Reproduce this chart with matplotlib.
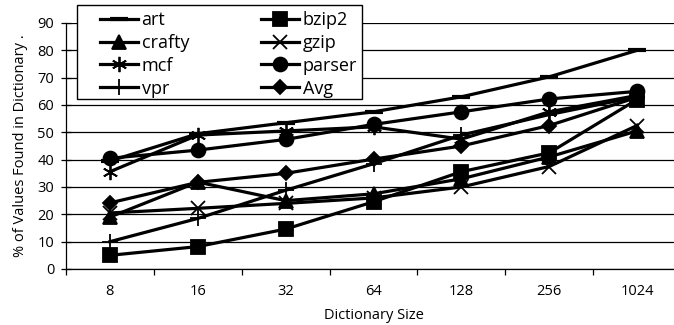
import matplotlib
matplotlib.use('Agg')
import matplotlib.pyplot as plt
from matplotlib.patches import Rectangle
from matplotlib.ticker import FixedLocator, NullFormatter

plt.rcParams['font.family'] = ['Open Sans', 'DejaVu Sans']

sizes = ['8', '16', '32', '64', '128', '256', '1024']

art = [39.5, 49.5, 53.5, 57.5, 63, 70.3, 80]
bzip2 = [5, 8.2, 14.6, 24.6, 35.6, 42.5, 62]
crafty = [19, 31.8, 25, 27.5, 33, 41, 50.5]
gzip = [20.5, 22.2, 24, 26, 30, 37.5, 52.5]
mcf = [35.6, 49, 50.5, 52, 47.5, 57.5, 63.5]
parser = [40.5, 43.5, 47.4, 52.9, 57.5, 62.2, 65]
vpr = [10, 18.5, 28.8, 38.5, 49, 56.5, 63]
avg = [24.2, 31.7, 35, 40.2, 45, 52.5, 62.8]

series = [
    ('art', art, '_', 13),
    ('bzip2', bzip2, 's', 10),
    ('crafty', crafty, '^', 10),
    ('gzip', gzip, 'x', 10),
    ('mcf', mcf, (6, 2, 0), 11),
    ('parser', parser, 'o', 10),
    ('vpr', vpr, '+', 12),
    ('Avg', avg, 'D', 7.5),
]

W, H = 674, 325
fig = plt.figure(figsize=(W / 100, H / 100), dpi=100)
ax = fig.add_axes([66 / W, 1 - 269 / H, 615 / W, 246 / H])

x = list(range(len(sizes)))
lines = {}
for name, vals, mk, ms in series:
    mew = 3 if mk == '_' else 1.3
    ln, = ax.plot(x, vals, color='black', lw=2.3, marker=mk, markersize=ms,
                  markeredgewidth=mew, markerfacecolor='black',
                  markeredgecolor='black', label=name, zorder=3)
    lines[name] = ln

ax.set_xlim(-0.5, 6.5)
ax.set_ylim(0, 90)
ax.set_yticks(range(0, 91, 10))
ax.yaxis.grid(True, color='black', lw=0.9)
ax.set_axisbelow(True)
ax.set_xticks(x)
ax.set_xticklabels(sizes)
ax.xaxis.set_minor_locator(FixedLocator([i + 0.5 for i in range(-1, 7)]))
ax.xaxis.set_minor_formatter(NullFormatter())
ax.tick_params(axis='x', which='major', length=0, pad=11, labelsize=10.5)
ax.tick_params(axis='x', which='minor', length=4, width=0.9, direction='out')
ax.tick_params(axis='y', length=7, width=0.9, direction='inout', labelsize=10.5, pad=5)

for s in ['top', 'right']:
    ax.spines[s].set_visible(False)
ax.spines['left'].set_linewidth(0.9)
ax.spines['bottom'].set_linewidth(0.9)

ax.set_xlabel('Dictionary Size', fontsize=10.5, labelpad=6)
ax.set_ylabel('% of Values Found in Dictionary .', fontsize=10.5, labelpad=7)

# legend box drawn separately so the padding matches the original
box = Rectangle((77 / W, 1 - 99 / H), 285 / W, 94 / H, transform=fig.transFigure,
                facecolor='white', edgecolor='black', lw=1.0, zorder=4)
fig.patches.append(box)

order = ['art', 'crafty', 'mcf', 'vpr', 'bzip2', 'gzip', 'parser', 'Avg']
leg = fig.legend([lines[n] for n in order], order, ncol=2, loc='upper left',
                 bbox_to_anchor=(100 / W, 1 - 11 / H), fontsize=13,
                 frameon=False, borderpad=0, borderaxespad=0,
                 handlelength=2.1, handletextpad=0.2, columnspacing=4.0,
                 labelspacing=0.27)
leg.set_zorder(5)

fig.savefig('out.png', dpi=100)
